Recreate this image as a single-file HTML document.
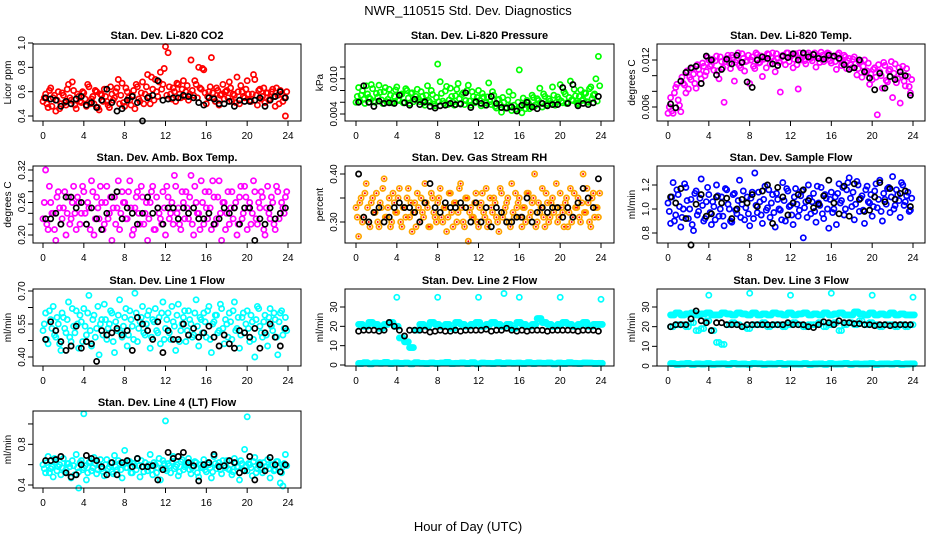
<!DOCTYPE html>
<html><head><meta charset="utf-8"><style>
html,body{margin:0;padding:0;background:#fff;}
svg{display:block;font-family:"Liberation Sans",sans-serif;}
</style></head><body>
<svg id="chart" width="936" height="540" viewBox="0 0 936 540" xmlns="http://www.w3.org/2000/svg">
<rect x="0" y="0" width="936" height="540" fill="#fff"/>
<text x="468" y="15" text-anchor="middle" font-size="13">NWR_110515  Std. Dev. Diagnostics</text>
<text x="468" y="531" text-anchor="middle" font-size="13">Hour of Day (UTC)</text>
</svg>
<script>
// ---------- data (colored = all samples, black = averages) ----------
const hourTicks = [0,4,8,12,16,20,24];
const co2Col = [.52,.58,.47,.63,.55,.44,.60,.50,.57,.49,.66,.53,.61,.46,.56,.51,.59,.48,.64,.54,.50,.60,.45,.57,.62,.52,.47,.58,.55,.63,.50,.67,.48,.60,.53,.57,.46,.64,.52,.68,.58,.74,.50,.62,.70,.56,.76,.66,.97,.92,.58,.63,.52,.66,.55,.69,.60,.53,.86,.57,.66,.80,.62,.78,.50,.60,.88,.55,.63,.49,.58,.54,.61,.68,.52,.57,.72,.50,.60,.55,.69,.53,.58,.70,.49,.62,.56,.51,.59,.54,.62,.48,.57,.61,.52,.40];
const co2Col2 = [.55,.50,.61,.48,.57,.53,.46,.59,.51,.62,.55,.68,.49,.58,.52,.60,.54,.66,.50,.56,.61,.47,.58,.52,.56,.49,.64,.53,.60,.70,.57,.51,.63,.55,.49,.61,.66,.54,.59,.50,.64,.56,.72,.53,.60,.68,.62,.79,.57,.64,.54,.60,.67,.58,.62,.56,.65,.58,.61,.69,.55,.63,.79,.59,.56,.64,.59,.52,.61,.57,.66,.60,.55,.63,.58,.51,.60,.65,.56,.62,.58,.52,.74,.57,.61,.54,.63,.59,.53,.60,.56,.63,.50,.58,.55,.60];
const co2Blk = [.55,.54,.53,.48,.52,.50,.54,.56,.49,.51,.47,.53,.62,.51,.44,.46,.53,.56,.51,.36,.55,.57,.69,.53,.54,.55,.55,.57,.56,.55,.51,.49,.55,.54,.50,.50,.52,.48,.53,.52,.52,.53,.55,.48,.53,.56,.60,.55];
const presCol = [6.0,8.5,7.2,6.5,8.8,6.8,9.0,6.2,7.5,8.9,6.4,7.8,6.1,8.2,5.9,7.0,8.6,6.3,7.4,6.0,8.0,5.8,7.6,6.5,8.2,6.1,7.0,5.5,8.8,6.0,7.3,5.4,12.5,9.5,6.2,7.9,5.6,8.4,6.0,7.1,9.2,5.8,7.6,6.3,8.9,5.5,7.0,6.2,8.0,5.4,6.9,5.9,9.3,5.6,7.2,5.0,6.5,4.3,6.0,5.1,7.8,4.6,5.5,4.8,11.5,4.2,5.6,6.3,4.9,7.2,5.3,6.6,8.4,5.2,7.0,5.8,6.2,8.6,5.5,6.9,9.0,5.9,7.4,6.0,9.6,6.3,7.1,5.7,8.1,6.5,7.5,6.0,8.6,7.2,10.0,13.8];
const presCol2 = [7.0,6.2,8.0,5.8,7.4,6.6,8.3,6.0,6.9,7.7,5.8,8.5,6.5,7.2,6.0,8.1,6.4,7.3,5.9,8.3,6.7,7.5,6.1,7.0,6.6,7.8,5.9,7.2,6.3,8.0,5.7,6.8,6.1,7.5,5.8,8.7,6.4,7.0,5.5,8.2,6.6,7.3,5.6,8.0,6.2,7.8,5.9,6.8,6.3,7.5,5.5,6.9,6.1,7.8,5.3,6.4,5.6,6.8,5.0,6.4,5.4,7.2,4.8,6.0,5.3,6.7,4.9,5.9,5.4,6.8,5.6,6.3,5.9,7.4,5.5,6.6,5.8,7.2,6.0,6.5,6.2,7.8,5.8,6.8,6.4,8.2,5.9,7.0,6.3,7.6,6.1,8.3,6.6,7.4,6.2,8.8];
const presBlk = [6.0,8.8,6.0,5.3,6.2,5.8,5.9,5.8,7.2,5.9,5.5,6.5,5.6,6.1,5.3,5.0,5.4,5.5,5.8,5.6,5.7,7.6,5.1,6.1,5.8,5.5,7.0,5.8,5.1,5.0,5.2,4.5,5.5,6.0,5.2,4.9,5.8,5.4,5.6,5.6,8.5,5.8,9.0,5.4,5.8,5.6,5.9,7.0];
const tempCol = [5.2,7.2,5.2,8.5,6.9,5.4,9.0,7.8,8.3,9.5,10.2,8.4,10.8,9.6,11.2,10.5,12.0,11.4,10.7,12.5,9.6,11.8,6.6,12.2,11.6,12.6,9.3,12.0,11.3,12.8,10.6,11.9,9.0,12.4,10.9,12.7,11.7,9.9,12.3,12.8,11.5,12.9,10.5,12.2,7.9,12.6,11.4,12.9,12.4,11.0,12.8,8.3,12.0,12.7,11.5,12.9,12.2,12.7,11.1,12.5,13.0,11.8,12.3,12.8,11.6,12.4,10.8,12.9,11.3,12.6,10.9,12.2,11.0,12.4,10.1,11.7,9.8,12.0,10.6,8.9,9.5,11.0,5.0,10.5,8.4,11.3,9.2,10.8,7.2,11.5,9.6,6.5,11.2,8.7,9.9,7.8];
const tempCol2 = [6.0,5.5,7.8,8.9,6.2,9.8,8.8,10.6,9.8,10.9,9.0,11.4,10.2,11.6,10.0,12.3,11.2,12.1,11.9,10.6,12.4,11.0,11.8,12.6,10.9,12.3,11.7,12.9,11.0,12.2,11.8,12.6,12.0,11.2,12.9,11.6,12.5,12.1,11.0,12.7,12.3,11.9,12.8,11.7,12.4,12.0,12.9,11.8,12.6,12.1,11.4,12.9,12.3,11.9,12.7,12.3,11.9,12.9,12.4,11.7,12.6,12.2,12.9,11.9,12.3,11.8,12.7,12.0,11.6,12.4,11.9,11.4,12.1,11.5,10.9,11.8,11.2,10.4,11.6,10.2,10.8,9.8,11.4,10.0,11.7,9.4,10.6,11.8,10.3,9.1,11.0,10.1,9.3,10.9,8.6,9.5];
const tempBlk = [6.4,5.9,9.3,10.4,11.0,11.2,9.0,12.5,12.0,10.1,10.8,12.1,11.5,12.6,11.7,9.2,8.5,12.0,12.4,12.2,11.5,11.3,12.5,12.3,12.8,12.0,12.9,12.4,12.7,12.2,12.1,12.6,12.5,12.2,11.4,10.8,11.0,12.0,10.5,9.7,8.2,10.3,8.4,9.9,9.5,10.5,10.0,7.5];
const ambCol = [.23,.32,.21,.26,.24,.19,.28,.22,.25,.20,.27,.23,.29,.21,.26,.24,.28,.22,.25,.30,.20,.27,.23,.26,.22,.29,.24,.19,.27,.25,.21,.28,.26,.23,.30,.20,.25,.28,.22,.27,.24,.19,.26,.29,.21,.25,.23,.28,.20,.27,.24,.22,.29,.25,.21,.26,.28,.23,.31,.20,.26,.24,.30,.22,.25,.28,.21,.27,.23,.30,.19,.26,.24,.22,.28,.25,.20,.27,.23,.29,.21,.26,.24,.28,.22,.25,.27,.20,.29,.23,.26,.21,.28,.24,.25,.27];
const ambCol2 = [.26,.22,.29,.24,.21,.27,.25,.23,.28,.24,.22,.26,.24,.27,.22,.29,.24,.26,.21,.28,.23,.25,.29,.21,.26,.23,.27,.25,.22,.30,.24,.26,.23,.28,.25,.21,.27,.24,.29,.22,.26,.23,.28,.21,.27,.24,.22,.25,.29,.23,.26,.31,.24,.22,.28,.23,.25,.27,.22,.29,.24,.21,.26,.28,.23,.25,.30,.22,.27,.24,.26,.21,.28,.25,.23,.26,.22,.29,.24,.27,.25,.22,.30,.23,.26,.28,.21,.25,.24,.27,.22,.29,.23,.26,.24,.28];
const ambBlk = [.23,.23,.24,.22,.27,.27,.25,.26,.22,.25,.23,.21,.24,.27,.28,.23,.25,.24,.22,.24,.27,.24,.25,.22,.25,.25,.23,.25,.24,.25,.23,.23,.24,.22,.23,.25,.24,.25,.22,.25,.25,.19,.23,.22,.25,.23,.24,.25];
const rhCol = [.33,.27,.35,.31,.38,.30,.34,.32,.36,.29,.33,.39,.31,.35,.30,.34,.32,.37,.29,.33,.35,.31,.28,.34,.36,.30,.32,.38,.33,.29,.35,.31,.34,.37,.30,.33,.31,.36,.29,.34,.32,.38,.30,.35,.26,.33,.31,.36,.29,.34,.32,.37,.30,.33,.35,.31,.28,.36,.32,.34,.30,.38,.31,.33,.35,.29,.33,.36,.31,.34,.40,.30,.32,.37,.29,.34,.31,.35,.33,.30,.36,.32,.34,.29,.37,.31,.33,.35,.30,.40,.32,.34,.29,.36,.33,.31];
const rhCol2 = [.31,.34,.30,.36,.33,.29,.35,.32,.30,.34,.37,.31,.33,.29,.36,.32,.35,.30,.33,.31,.37,.34,.32,.29,.33,.35,.31,.34,.29,.36,.32,.30,.35,.31,.33,.28,.36,.32,.34,.30,.37,.33,.29,.35,.32,.31,.34,.30,.33,.36,.31,.29,.35,.32,.34,.30,.37,.31,.33,.35,.29,.32,.36,.34,.31,.33,.30,.36,.32,.35,.29,.34,.33,.31,.36,.30,.34,.32,.38,.31,.33,.29,.35,.32,.30,.36,.33,.31,.34,.32,.37,.30,.35,.31,.33,.36];
const rhBlk = [.40,.31,.30,.32,.33,.30,.31,.33,.34,.33,.33,.32,.30,.34,.38,.33,.32,.34,.33,.33,.34,.33,.30,.34,.30,.33,.29,.33,.32,.30,.30,.31,.31,.35,.30,.32,.33,.32,.33,.33,.31,.33,.31,.34,.37,.35,.33,.39];
const flowCol = [1.05,.88,1.22,.95,1.12,.85,1.00,1.18,.92,1.08,.82,1.15,.98,1.25,.90,1.06,1.12,.87,1.02,1.20,.94,1.10,.86,1.16,1.00,.89,1.13,.96,1.24,1.04,.91,1.10,.86,1.14,1.30,.97,1.06,.88,1.19,1.01,.93,1.12,.85,1.08,.99,1.22,.90,1.15,1.03,.87,1.17,.94,1.11,.76,1.06,1.20,.96,1.13,.89,1.05,1.18,.92,1.09,.84,1.14,1.00,.87,1.21,1.07,.95,1.16,1.26,1.02,.91,1.23,.98,1.11,.88,1.19,1.05,.94,1.15,1.01,1.24,.90,1.08,1.17,.97,1.27,1.03,1.12,.93,1.20,1.06,1.14,.99];
const flowCol2 = [.98,1.10,.90,1.16,1.02,.93,1.21,1.07,1.00,.87,1.13,.95,1.09,1.03,.92,1.18,.97,1.06,.91,1.11,1.00,.94,1.17,1.04,.90,1.12,.99,1.07,.93,1.15,1.01,.96,1.09,.92,1.03,1.14,.95,1.08,.99,1.16,1.05,.97,1.13,1.00,.91,1.07,1.17,1.02,.95,1.10,1.04,.99,1.15,1.01,.93,1.09,1.06,.98,1.19,1.03,.96,1.12,1.00,1.08,.97,1.10,1.13,1.05,1.18,1.00,1.22,1.09,1.14,1.04,1.20,1.09,.99,1.16,1.06,1.12,1.02,1.21,1.08,.98,1.13,1.04,1.18,1.10,1.00,1.16,1.07,1.22,1.03,1.11,.98,1.09];
const flowBlk = [1.10,1.05,1.17,.92,.70,1.04,1.12,.94,.96,1.10,1.05,1.09,.92,1.00,1.08,1.05,1.12,1.02,1.15,1.20,.88,1.18,1.10,.95,1.05,1.12,1.16,1.07,1.01,1.04,1.11,1.24,1.05,.96,1.19,.94,1.21,1.08,.98,.99,1.10,1.22,1.06,1.17,1.08,1.13,1.15,1.02];
const line1Col = [.52,.60,.46,.57,.63,.49,.55,.43,.58,.51,.65,.47,.54,.61,.44,.56,.62,.50,.68,.45,.59,.53,.41,.57,.64,.48,.55,.60,.42,.52,.66,.49,.58,.45,.61,.54,.69,.47,.56,.63,.50,.59,.44,.57,.62,.51,.46,.65,.53,.60,.48,.56,.43,.64,.52,.58,.47,.61,.55,.50,.66,.45,.57,.60,.49,.63,.42,.56,.59,.52,.62,.46,.55,.60,.48,.65,.53,.44,.58,.51,.61,.47,.56,.40,.63,.54,.49,.59,.45,.62,.52,.57,.41,.60,.50,.58];
const line1Col2 = [.55,.48,.61,.53,.50,.58,.46,.60,.53,.57,.49,.62,.51,.55,.59,.47,.54,.60,.52,.57,.49,.63,.55,.50,.57,.53,.61,.47,.56,.59,.51,.54,.62,.50,.57,.48,.60,.53,.58,.51,.55,.61,.49,.56,.52,.58,.60,.48,.57,.51,.63,.54,.59,.47,.55,.61,.52,.57,.49,.60,.54,.58,.51,.56,.61,.48,.55,.59,.51,.64,.53,.57,.49,.56,.61,.52,.58,.50,.60,.55,.53,.59,.48,.57,.62,.51,.56,.50,.58,.54,.60,.49,.56,.61,.53,.52];
const line1Blk = [.48,.56,.52,.47,.43,.45,.54,.44,.47,.46,.38,.52,.50,.51,.53,.50,.52,.43,.58,.55,.52,.48,.56,.42,.52,.48,.48,.55,.50,.53,.49,.51,.54,.49,.45,.50,.46,.44,.52,.51,.49,.53,.44,.51,.55,.49,.45,.53];
const line2High = [21,20,22,21,19,21,22,20,14,12,9,18,21,20,22,21,20,21,19,22,21,20,21,22,20,21,22,21,20,21,19,22,21,20,21,24,22,21,20,21,22,21,20,21,22,20,21,21];
const line2Low = [0.8,1.2,0.6,1.0,0.9,1.3,0.7,1.1,0.8,1.0,0.6,1.2,0.9,0.7,1.1,0.8,1.0,1.3,0.7,0.9,1.1,0.8,1.2,0.6,1.0,0.9,0.7,1.2,0.8,1.1,0.9,1.0,0.7,1.2,0.8,1.0,0.9,1.1,0.6,1.0,0.8,1.2,0.9,0.7,1.1,1.0,0.8,0.9];
const line2Blk = [17.5,18,18,18,17.5,18,22,20,18,15,18,18,18,18,17,17.5,18,17.5,17.5,18,17.5,18,18,18,18,18.5,17.5,18,18,19,18,17.5,18,17.5,18,18,18,17.5,18,18,18,18,18,17.5,18,18,18,17.5];
const line2OutT = [4,8,12,14.5,16,20,24];
const line2OutV = [35,35,35,37,35,35,34];
const line3Top = [26,27,26,26.5,27,26,26.5,27,26,26,27,26.5,26,27,26.5,26,27,26,26.5,26,27,26.5,26,27,26,26.5,27,26,26.5,26,27,26,26.5,27,26,26,27.5,26.5,26,27,26,26.5,26,27,26,26.5,26,26];
const line3Mid = [20,21,21,20,22,18,19,23,18,12,11,21,22,21,20,19,21,21,22,20,21,21,20,21,22,21,20,21,21,22,20,21,22,18,21,22,21,23,21,22,21,20,21,21,20,21,20,21];
const line3Low = [1.2,0.8,1.0,1.3,0.7,1.1,0.9,1.2,0.8,1.0,1.1,0.7,1.3,0.9,1.0,0.8,1.2,1.1,0.7,1.0,0.9,1.3,0.8,1.1,1.0,0.9,1.2,0.7,1.0,1.1,0.8,1.2,0.9,1.0,1.3,0.8,1.1,0.9,1.0,1.2,0.7,1.0,1.1,0.9,1.2,0.8,1.0,1.1];
const line3Blk = [20,21,21,21,24,28,23,22,18,22,22,21,21,21,20,21,21,21,21,21,21,21,21,22,21,21,21,20,19.5,21,22.5,22,21,23,22,22,21.5,21.5,21,21,20.5,21,21,20.5,21,21,21,21];
const line3OutT = [4,8,12,16,20,24];
const line3OutV = [36,37,36,37,36,35];
const line4Col = [.60,.52,.68,.56,.48,.63,.58,.50,.66,.55,.61,.47,.59,.70,.53,.64,.57,.45,.62,.54,.67,.51,.60,.56,.49,.65,.58,.53,.69,.55,.61,.47,.74,.57,.63,.52,.59,.66,.48,.58,.62,.54,.70,.50,.60,.57,.45,.64,.56,.61,.52,.68,.58,.49,.63,.55,.60,.66,.51,.58,.62,.48,.57,.65,.53,.60,.47,.68,.56,.62,.51,.59,.64,.55,.50,.66,.58,.45,.61,.75,.54,.60,.49,.67,.56,.62,.52,.58,.65,.47,.60,.55,.63,.42,.58,.70];
const line4Col2 = [.56,.62,.52,.58,.66,.54,.60,.57,.53,.61,.58,.64,.50,.57,.62,.55,.59,.52,.63,.57,.61,.55,.65,.53,.60,.56,.62,.51,.58,.64,.55,.60,.57,.63,.52,.61,.55,.59,.64,.53,.58,.60,.55,.62,.52,.66,.57,.61,.54,.59,.63,.56,.60,.53,.65,.58,.61,.55,.57,.63,.52,.60,.58,.55,.62,.57,.53,.61,.59,.55,.64,.57,.56,.60,.53,.62,.58,.64,.55,.59,.61,.57,.63,.52,.59,.55,.62,.58,.56,.60,.54,.63,.57,.52,.61,.59];
const line4Blk = [.64,.64,.65,.68,.52,.48,.50,.60,.69,.66,.64,.58,.50,.62,.50,.62,.64,.58,.66,.58,.58,.59,.45,.55,.72,.66,.68,.72,.62,.59,.44,.60,.62,.70,.58,.59,.64,.62,.52,.54,.68,.45,.60,.54,.67,.60,.53,.60];
const line4OutT = [4,12,20,3.5,23.5];
const line4OutV = [1.10,1.03,1.07,0.37,0.39];

// ---------- layout ----------
const colLeft = [33,345,657], colRight=[301,614,925], colX0=[43,356,668], colX24=[288,601,913];
const rowTop = [44,166,289,411], rowBot=[121,243,366,488];

const CY='#00ffff';
const panels = [
 {name:'co2',title:'Stan. Dev. Li-820 CO2',ylab:'Licor ppm',c:0,r:0,ya:[0.4,116,1.0,43],ticks:[0.4,0.6,0.8,1.0],labels:['0.4','0.6','0.8','1.0'],
  series:[['#ff0000',co2Col],['#ff0000',co2Col2,null,0.125],['#000000',co2Blk]]},
 {name:'pressure',title:'Stan. Dev. Li-820 Pressure',ylab:'kPa',c:1,r:0,ya:[4,114,12,67],ticks:[4,6,8,10,12],labels:['0.004','','','0.010',''],
  series:[['#00ff00',presCol],['#00ff00',presCol2,null,0.125],['#000000',presBlk]]},
 {name:'temp',title:'Stan. Dev. Li-820 Temp.',ylab:'degrees C',c:2,r:0,ya:[6,107,12,60],ticks:[6,8,10,12],labels:['0.006','','','0.012'],
  series:[['#ff00ff',tempCol],['#ff00ff',tempCol2,null,0.125],['#000000',tempBlk]]},
 {name:'amb-box-temp',title:'Stan. Dev. Amb. Box Temp.',ylab:'degrees C',c:0,r:1,ya:[0.20,235,0.32,170],ticks:[0.20,0.22,0.24,0.26,0.28,0.30,0.32],labels:['0.20','','','0.26','','','0.32'],
  series:[['#ff00ff',ambCol],['#ff00ff',ambCol2,null,0.125],['#000000',ambBlk]]},
 {name:'gas-rh',title:'Stan. Dev. Gas Stream RH',ylab:'percent',c:1,r:1,ya:[0.30,222,0.40,174],ticks:[0.30,0.35,0.40],labels:['0.30','','0.40'],
  series:[['#ffa500',rhCol,'#ff0000'],['#ffa500',rhCol2,'#ff0000',0.125],['#000000',rhBlk]]},
 {name:'sample-flow',title:'Stan. Dev. Sample Flow',ylab:'ml/min',c:2,r:1,ya:[0.8,233,1.2,185],ticks:[0.8,1.0,1.2],labels:['0.8','1.0','1.2'],
  series:[['#0000ff',flowCol],['#0000ff',flowCol2,null,0.125],['#000000',flowBlk]]},
 {name:'line1-flow',title:'Stan. Dev. Line 1 Flow',ylab:'ml/min',c:0,r:2,ya:[0.40,357,0.70,291],ticks:[0.40,0.475,0.55,0.625,0.70],labels:['0.40','','0.55','','0.70'],
  series:[[CY,line1Col],[CY,line1Col2,null,0.125],['#000000',line1Blk]]},
 {name:'line2-flow',title:'Stan. Dev. Line 2 Flow',ylab:'ml/min',c:1,r:2,ya:[0,365,30,307],ticks:[0,10,20,30],labels:['0','10','20','30'],
  series:[[CY,line2High],[CY,line2High,null,0.125],[CY,line2High,null,0.25],[CY,line2High,null,0.375],[CY,line2Low],[CY,line2Low,null,0.125],[CY,line2Low,null,0.25],[CY,line2Low,null,0.375],[CY,line2OutV,null,0,line2OutT],['#000000',line2Blk]]},
 {name:'line3-flow',title:'Stan. Dev. Line 3 Flow',ylab:'ml/min',c:2,r:2,ya:[0,366,30,307],ticks:[0,10,20,30],labels:['0','10','20','30'],
  series:[[CY,line3Top],[CY,line3Top,null,0.125],[CY,line3Top,null,0.25],[CY,line3Top,null,0.375],[CY,line3Mid],[CY,line3Mid,null,0.25],[CY,line3Low],[CY,line3Low,null,0.125],[CY,line3Low,null,0.25],[CY,line3Low,null,0.375],[CY,line3OutV,null,0,line3OutT],['#000000',line3Blk]]},
 {name:'line4-flow',title:'Stan. Dev. Line 4 (LT) Flow',ylab:'ml/min',c:0,r:3,ya:[0.4,485,0.8,444.3],ticks:[0.4,0.6,0.8,1.0],labels:['0.4','','0.8',''],
  series:[[CY,line4Col],[CY,line4Col2,null,0.125],[CY,line4OutV,null,0,line4OutT],['#000000',line4Blk]]}
];

const NS='http://www.w3.org/2000/svg';
const svg=document.getElementById('chart');
function mk(tag,attrs,parent){const e=document.createElementNS(NS,tag);for(const k in attrs)e.setAttribute(k,attrs[k]);(parent||svg).appendChild(e);return e;}

panels.forEach(p=>{
  const g=mk('g',{});
  
  
  const L=colLeft[p.c],R=colRight[p.c],T=rowTop[p.r],B=rowBot[p.r];
  const xs=h=>colX0[p.c]+(colX24[p.c]-colX0[p.c])*h/24;
  const ys=v=>p.ya[1]+(v-p.ya[0])*(p.ya[3]-p.ya[1])/(p.ya[2]-p.ya[0]);
  const t=mk('text',{x:(L+R)/2,y:T-5,'text-anchor':'middle','font-size':'11','font-weight':'bold'},g);
  t.textContent=p.title;
  
  
  const pg=mk('g',{fill:'none','stroke-width':'1.7'},g);
  
  
  p.series.forEach(s=>{
    const color=s[0],vals=s[1],inner=s[2],off=s[3]||0,times=s[4];
    vals.forEach((v,i)=>{
      const h=times?times[i]:(vals.length>=90? i*24/vals.length : 0.25+i*24/vals.length)+off;
      const cx=xs(h),cy=ys(v);
      const c=mk('circle',{cx:cx.toFixed(1),cy:cy.toFixed(1),r:'2.6',stroke:color},pg);
      
      
      if(inner){mk('circle',{cx:cx.toFixed(1),cy:cy.toFixed(1),r:'1',fill:inner,stroke:'none'},pg);}
    });
  });
  const box=mk('rect',{x:L,y:T,width:R-L,height:B-T,fill:'none',stroke:'#000','stroke-width':'1'},g);
  
  
  const xa=mk('g',{},g);
  
  
  mk('line',{x1:xs(0),x2:xs(24),y1:B,y2:B,stroke:'#000'},xa);
  hourTicks.forEach(h=>{
    mk('line',{x1:xs(h),x2:xs(h),y1:B,y2:B+5,stroke:'#000'},xa);
    const tl=mk('text',{x:xs(h),y:B+18,'text-anchor':'middle','font-size':'10'},xa);
    tl.textContent=h;
  });
  const ya=mk('g',{},g);
  
  
  mk('line',{x1:L,x2:L,y1:ys(p.ticks[0]),y2:ys(p.ticks[p.ticks.length-1]),stroke:'#000'},ya);
  p.ticks.forEach((v,i)=>{
    const y=ys(v);
    mk('line',{x1:L-5,x2:L,y1:y,y2:y,stroke:'#000'},ya);
    if(p.labels[i]){
      const tl=mk('text',{x:L-8,y:y,'text-anchor':'middle','font-size':'10',transform:`rotate(-90 ${L-8} ${y})`},ya);
      tl.textContent=p.labels[i];
    }
  });
  const yl=mk('text',{x:L-22,y:(T+B)/2,'text-anchor':'middle','font-size':'10',transform:`rotate(-90 ${L-22} ${(T+B)/2})`},g);
  yl.textContent=p.ylab;
  
  
});
</script>
</body></html>
